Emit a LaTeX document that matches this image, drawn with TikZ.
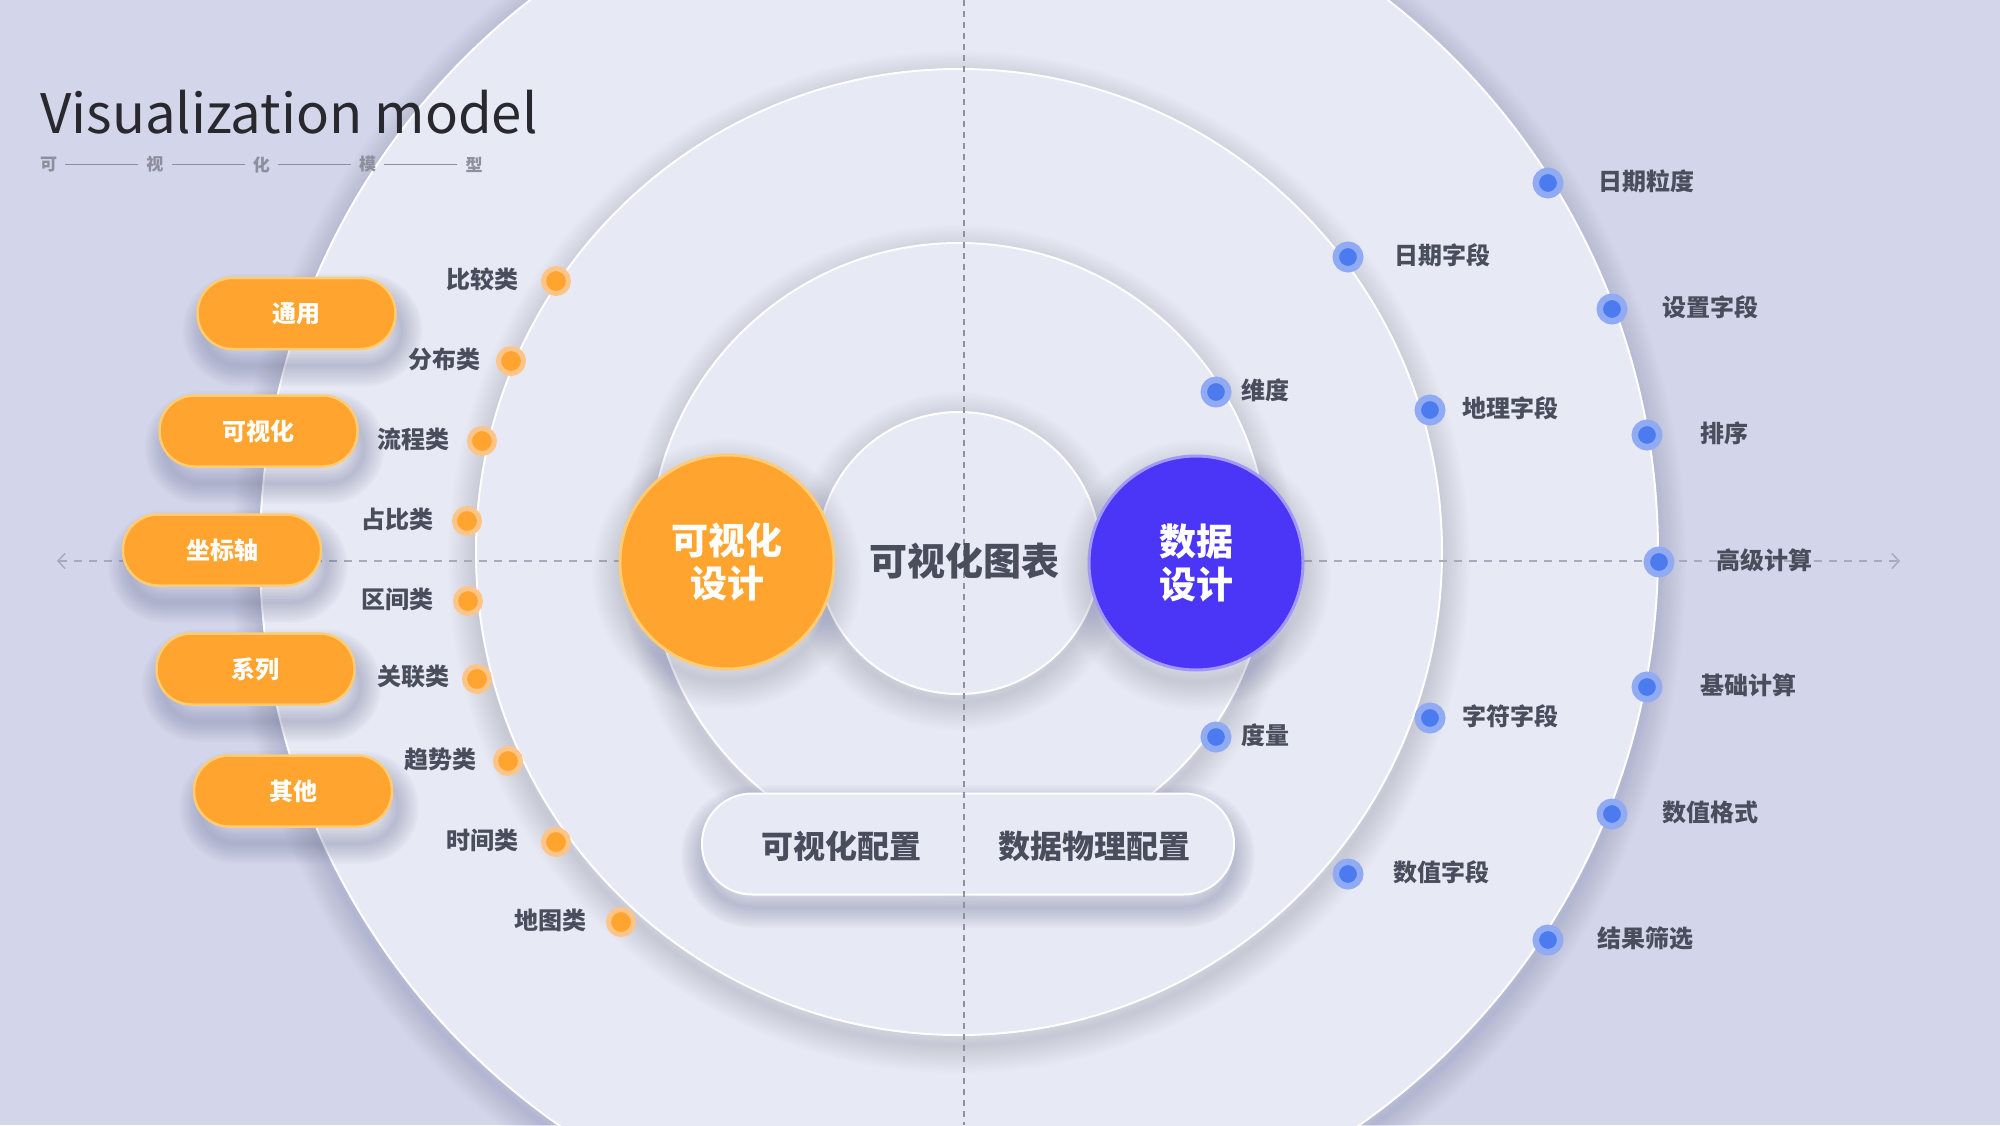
\documentclass[tikz,border=0pt]{standalone}
\usepackage{fontspec}
\newfontfamily\cjk{Noto Sans CJK SC}
\usetikzlibrary{calc,positioning,arrows.meta}
\definecolor{bgc}{HTML}{D3D6EA}
\definecolor{ringc}{HTML}{E7E9F4}
\definecolor{shc}{HTML}{6E7399}
\definecolor{orc}{HTML}{FFA42F}
\definecolor{orlt}{HTML}{FFCB73}
\definecolor{bluc}{HTML}{4B35F7}
\definecolor{blult}{HTML}{A298F8}
\definecolor{dotb}{HTML}{4C7BEF}
\definecolor{dotbh}{HTML}{90ABF3}
\definecolor{dotoh}{HTML}{FFC588}
\definecolor{txtc}{HTML}{4A4E5C}
\definecolor{titc}{HTML}{28282E}
\definecolor{subc}{HTML}{8D8F9C}
\definecolor{linec}{HTML}{A7AABB}
\definecolor{vlinec}{HTML}{8E91A0}
\newcommand{\DiscShadow}[3]{%
  \foreach \k in {1,...,16}
    \draw[shc, opacity=0.016, line width=\k*3.5pt] (#1) ++(0,#3) circle[radius=#2];
}
\tikzset{
  ring/.style={fill=ringc, draw=white, line width=2pt},
  pillshade/.style={shc, opacity=0.026, rounded corners=35pt},
  tag/.style={
    rounded corners=35pt,
    minimum width=198pt,
    minimum height=71pt,
    inner sep=0pt,
    fill=orc, draw=orlt, line width=2.5pt,
    text=white,
    font=\cjk\bfseries\fontsize{24}{28}\selectfont
  },
  lbl/.style={font=\cjk\bfseries\fontsize{24}{28}\selectfont, text=txtc, inner sep=0pt},
  midtxt/.style={font=\cjk\bfseries\fontsize{32}{36}\selectfont, text=txtc, inner sep=0pt},
  odot/.style={circle, inner sep=0pt, minimum size=25pt, fill=orc, draw=dotoh, line width=5pt},
  bdot/.style={circle, inner sep=0pt, minimum size=24.5pt, fill=dotb, draw=dotbh, line width=6.5pt},
  hub/.style={circle, inner sep=0pt, minimum size=214pt, line width=3pt, text=white,
    align=center, font=\cjk\bfseries\fontsize{37}{43}\selectfont},
  axisline/.style={draw=linec, line width=1.5pt, dash pattern=on 8pt off 7pt},
  midline/.style={draw=vlinec, line width=1.2pt, dash pattern=on 6pt off 5pt},
  subch/.style={font=\cjk\bfseries\fontsize{17}{20}\selectfont, text=subc, inner sep=8pt},
}

\begin{document}
\begin{tikzpicture}[x=1pt,y=-1pt]
  \useasboundingbox (0,0) rectangle (2000,1125);
  \clip (0,0) rectangle (2000,1125);
  \fill[bgc] (0,0) rectangle (2000,1125);

  \DiscShadow{959,552}{699}{10}
  \path[ring] (959,552) circle[radius=699];
  \DiscShadow{959,552}{483}{10}
  \path[ring] (959,552) circle[radius=483];
  \DiscShadow{959,552}{309}{10}
  \path[ring] (959,552) circle[radius=309];

  \coordinate (axL) at (57,561);
  \coordinate (axR) at (1900,561);
  \draw[axisline, {Straight Barb[length=7pt,width=15pt,line width=1.5pt]}-{Straight Barb[length=7pt,width=15pt,line width=1.5pt]}] (axL) -- (axR);

  \foreach \k in {1,...,14}
    \draw[pillshade, rounded corners=50pt, line width=\k*3pt] (702,806) rectangle (1234,907);
  \node[ring, rounded corners=50pt, minimum width=532pt, minimum height=101pt] (cfg) at (968,844) {};
  \DiscShadow{959,553}{141}{8}
  \node[ring, circle, minimum size=282pt, inner sep=0pt] (core) at (959,553) {};
  \DiscShadow{727,562}{107}{12}
  \node[hub, fill=orc, draw=orlt] (vis) at (727,562) {可视化\\设计};
  \DiscShadow{1196,563}{107}{12}
  \node[hub, fill=bluc, draw=blult] (dat) at (1196,563) {数据\\设计};

  \coordinate (vT) at (964,0);
  \coordinate (vB) at (964,1125);
  \draw[midline] (vT) -- (vB);

  \node[midtxt, font=\cjk\bfseries\fontsize{38}{42}\selectfont] (coreT) at (964,561) {可视化图表};
  \node[midtxt] (cfgL) at (841,846) {可视化配置};
  \node[midtxt] (cfgR) at (1094,846) {数据物理配置};

  \foreach \t/\x/\y/\lx [count=\i] in {比较类/556/281/519, 分布类/511/361/481, 流程类/482/441/450,
      占比类/467/521/434, 区间类/468/601/434, 关联类/477/679/450, 趋势类/508/761/477,
      时间类/556/842/519, 地图类/621/922/587} {
    \node[odot] (od\i) at (\x,\y) {};
    \node[lbl, anchor=east] (ol\i) at (\lx,\y-2) {\t};
  }

  \foreach \t/\x/\y/\lx [count=\i] in {日期粒度/1548/183/1598, 日期字段/1348/257/1394, 设置字段/1612/309/1662,
      维度/1216/392/1241, 地理字段/1430/410/1462, 排序/1647/435/1700, 高级计算/1659/562/1716,
      基础计算/1647/687/1700, 字符字段/1430/718/1462, 度量/1216/737/1241, 数值格式/1612/814/1662,
      数值字段/1348/874/1393, 结果筛选/1548/940/1597} {
    \node[bdot] (bd\i) at (\x,\y) {};
    \node[lbl, anchor=west] (bl\i) at (\lx,\y-2) {\t};
  }

  \foreach \t/\x/\y [count=\i] in {通用/296.5/313.5, 可视化/258.5/431, 坐标轴/222/550,
      系列/255.5/669, 其他/293/791} {
    \foreach \k in {1,...,14}
      \draw[pillshade, line width=\k*3pt] (\x-93,\y-19) rectangle (\x+105,\y+52);
    \node[tag] (tag\i) at (\x,\y) {\t};
  }

  \node[anchor=base west, inner sep=0pt, text=titc, font=\cjk\fontsize{54.5}{60}\selectfont] (ttl) at (40,133) {Visualization model};
  \foreach \c [count=\i] in {可,视,化,模,型}
    \node[subch] (sub\i) at ({48.5+106.4*(\i-1)},164.5) {\c};
  \foreach \i [evaluate=\i as \j using int(\i+1)] in {1,...,4}
    \draw[subc, line width=1.5pt] (sub\i) -- (sub\j);
\end{tikzpicture}
\end{document}
